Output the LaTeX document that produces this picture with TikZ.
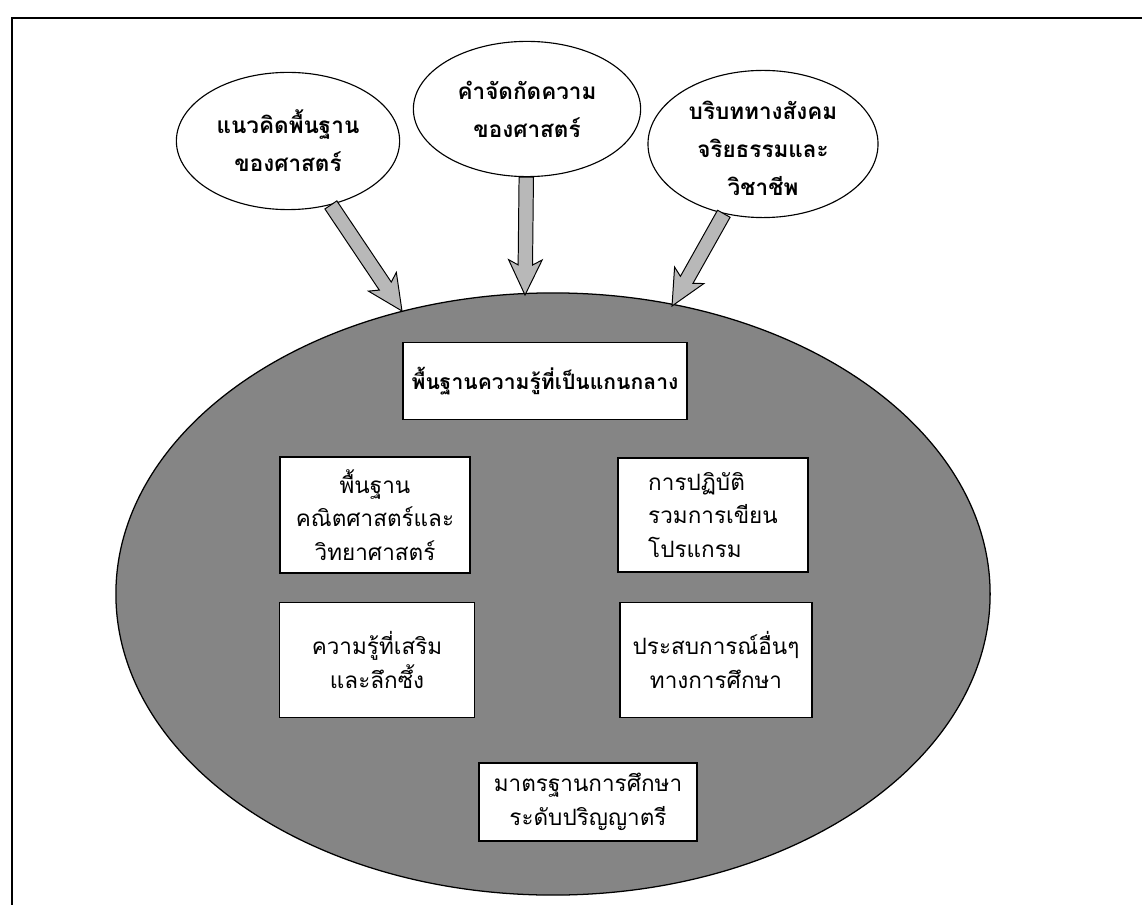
\documentclass[tikz,border=0pt]{standalone}
\usepackage{fontspec}
\newfontfamily\thaifont[Script=Thai]{Loma}
\usepackage{tikz}
\usetikzlibrary{calc, shapes.geometric}
\colorlet{coregray}{black!48}
\colorlet{arrowgray}{black!28}

% fat block arrow from one point to another
\newcommand{\fatarrow}[2]{%
  \coordinate (#2-b) at ($(#2)!7.5mm!(#1)$);
  \coordinate (#2-w) at ($(#2)!8.8mm!(#1)$);
  \draw[fill=arrowgray, line width=0.7pt, line join=miter]
    ($(#1)!1.8mm!90:(#2)$) -- ($(#2-b)!1.8mm!90:(#2)$)
    -- ($(#2-w)!4.2mm!90:(#2)$) -- (#2)
    -- ($(#2-w)!4.2mm!-90:(#2)$) -- ($(#2-b)!1.8mm!-90:(#2)$)
    -- ($(#1)!1.8mm!-90:(#2)$) -- cycle;
}

\begin{document}
\begin{tikzpicture}[x=0.025cm, y=-0.025cm,
    bubble/.style={ellipse, draw=black, fill=white, line width=0.8pt,
      inner sep=0pt, align=center, font=\thaifont\bfseries\fontsize{16}{27}\selectfont},
    core/.style={ellipse, draw=black, fill=coregray, line width=0.9pt, inner sep=0pt},
    infobox/.style={rectangle, draw=black, fill=white, line width=0.9pt,
      inner sep=2pt, align=center, font=\thaifont\fontsize{16}{24}\selectfont}]

    \useasboundingbox (0,0) rectangle (1142,905);

    % frame
    \draw[line width=1.1pt] (12,905) -- (12,18) -- (1142,18);

    % big ellipse
    \node[core, minimum width=21.85cm, minimum height=15.05cm] (core) at (553,594) {};

    % three ideas on top
    \node[bubble, minimum width=5.58cm, minimum height=3.43cm] (idea1) at (288,141)
      {แนวคิดพื้นฐาน\\ของศาสตร์};
    \node[bubble, minimum width=5.68cm, minimum height=3.38cm] (idea2) at (527,109)
      {คำจัดกัดความ\\ของศาสตร์};
    \node[bubble, minimum width=5.75cm, minimum height=3.45cm] (idea3) at (763,144)
      {\rule{0pt}{7mm}บริบททางสังคม\\จริยธรรมและ\\วิชาชีพ};

    % arrow tips on the big ellipse
    \coordinate (tip1) at (402,311);
    \coordinate (tip2) at (525,295);
    \coordinate (tip3) at (672,306);

    \path (idea1) -- (tip1) coordinate[pos=0] (from1);
    \path (idea2) -- (tip2) coordinate[pos=0] (from2);
    \path (idea3) -- (tip3) coordinate[pos=0] (from3);

    \fatarrow{from1}{tip1}
    \fatarrow{from2}{tip2}
    \fatarrow{from3}{tip3}

    % boxes inside
    \node[infobox, font=\thaifont\bfseries\fontsize{15}{24}\selectfont,
      minimum width=7.1cm, minimum height=1.93cm] (kern) at (545,381)
      {พื้นฐานความรู้ที่เป็นแกนกลาง};

    \node[infobox, minimum width=4.75cm, minimum height=2.9cm] (math) at (375,515)
      {พื้นฐาน\\คณิตศาสตร์และ\\วิทยาศาสตร์};
    \node[infobox, align=left, minimum width=4.75cm, minimum height=2.85cm] (prac) at (713,515)
      {การปฏิบัติ\\รวมการเขียน\\โปรแกรม};

    \node[infobox, minimum width=4.88cm, minimum height=2.88cm] (deep) at (377,660)
      {ความรู้ที่เสริม\\และลึกซึ้ง};
    \node[infobox, minimum width=4.8cm, minimum height=2.88cm] (exper) at (716,660)
      {ประสบการณ์อื่นๆ\\ทางการศึกษา};

    \node[infobox, minimum width=5.45cm, minimum height=1.95cm] (std) at (588,802)
      {มาตรฐานการศึกษา\\ระดับปริญญาตรี};

\end{tikzpicture}
\end{document}
